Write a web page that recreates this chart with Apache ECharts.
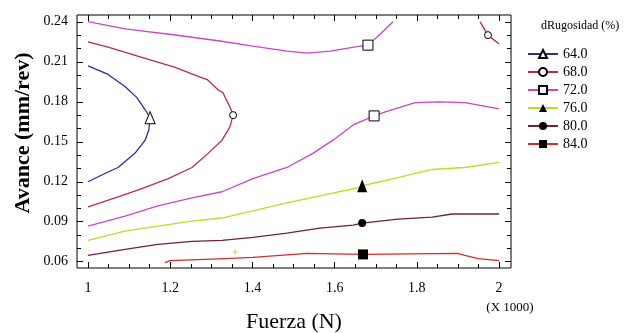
<!DOCTYPE html>
<html><head><meta charset="utf-8">
<script src="https://cdn.jsdelivr.net/npm/echarts@6/dist/echarts.min.js"></script>
<style>html,body{margin:0;padding:0;background:#fff}#c{width:626px;height:333px}</style>
</head><body><div id="c"></div>
<script>
// ---- data (Fuerza in thousands of N, Avance in mm/rev) ----
const levels = ['64.0','68.0','72.0','76.0','80.0','84.0'];
const xTickLabels = [1, 1.2, 1.4, 1.6, 1.8, 2];
const yTickLabels = [0.06, 0.09, 0.12, 0.15, 0.18, 0.21, 0.24];

const c64 = [[1,0.207],[1.049,0.2005],[1.09,0.1914],[1.119,0.1831],[1.139,0.174],[1.151,0.168],[1.148,0.1588],[1.139,0.1512],[1.114,0.1413],[1.073,0.1307],[1.041,0.1262],[1,0.12]];
const c68a = [[1,0.225],[1.049,0.221],[1.131,0.2134],[1.212,0.2058],[1.268,0.199],[1.29,0.1967],[1.316,0.189],[1.328,0.1869],[1.345,0.1762],[1.353,0.170],[1.345,0.161],[1.326,0.1512],[1.292,0.1413],[1.253,0.1307],[1.195,0.1224],[1.131,0.1148],[1.066,0.1079],[1,0.1011]];
const c68b = [[1.954,0.24],[1.973,0.230],[2,0.2233]];
const c72a = [[1,0.2402],[1.09,0.2347],[1.212,0.2301],[1.321,0.2256],[1.401,0.2218],[1.484,0.218],[1.533,0.2165],[1.589,0.218],[1.662,0.2218],[1.681,0.2225],[1.706,0.2294],[1.742,0.24]];
const c72b = [[1,0.0867],[1.09,0.0943],[1.17,0.1019],[1.253,0.1079],[1.326,0.1125],[1.401,0.1224],[1.484,0.1307],[1.547,0.1413],[1.596,0.1512],[1.645,0.1626],[1.696,0.1694],[1.723,0.1725],[1.796,0.1793],[1.856,0.18],[1.917,0.1793],[2,0.1747]];
const c76 = [[1,0.0761],[1.09,0.0829],[1.17,0.0867],[1.253,0.0905],[1.326,0.0928],[1.401,0.0981],[1.484,0.1041],[1.564,0.1094],[1.657,0.1155],[1.667,0.117],[1.754,0.1231],[1.837,0.1292],[1.917,0.1307],[2,0.1345]];
const c80 = [[1,0.0647],[1.09,0.0692],[1.17,0.073],[1.253,0.0753],[1.326,0.076],[1.401,0.0783],[1.484,0.0814],[1.564,0.0852],[1.645,0.0874],[1.667,0.089],[1.754,0.092],[1.837,0.0935],[1.886,0.0958],[2,0.0958]];
const c84 = [[1.187,0.0594],[1.2,0.0609],[1.333,0.0624],[1.401,0.0632],[1.467,0.0647],[1.533,0.0662],[1.669,0.0655],[1.9,0.0662],[1.917,0.0647],[1.949,0.0624],[2,0.0609]];
const strayMark = [[1.358,0.0673]];
// index of the point carrying the marker on each piece
const markIdx = {c64:5, c68a:9, c68b:1, c72a:9, c72b:10, c76:9, c80:9, c84:6};

const F = 'Liberation Serif';
const XMIN = 0.9732, XMAX = 2.029, YMIN = 0.0553, YMAX = 0.2451;

function steps(a, b, s){ const r=[]; for(let i=0;;i++){const v=+(a+i*s).toFixed(4); if(v>b+1e-9)break; r.push(v);} return r; }
const xMinor = steps(1,2,0.05).filter(v=>!xTickLabels.some(m=>Math.abs(m-v)<1e-6));
const yMinor = steps(0.06,0.24,0.01).filter(v=>!yTickLabels.some(m=>Math.abs(m-v)<1e-6));

function mkData(arr, idx){
  return arr.map((p,i)=> i===idx ? {value:p} : {value:p, symbol:'none'});
}
function series(name, arr, idx, color, symbol, size, hollow){
  return {
    type:'line', name, data: mkData(arr, idx), xAxisIndex:0, yAxisIndex:0,
    symbol, symbolSize:size, showSymbol:true, animation:false,
    lineStyle:{color, width:1.3},
    itemStyle: hollow ? {color:'#fff', borderColor:'#000', borderWidth:1} : {color:'#000', borderColor:'#000', borderWidth:0},
    emphasis:{disabled:true}, z: 3
  };
}
const col = ['#2b2ba6','#c22a40','#cc44cc','#b8e020','#7a1c3c','#e02828'];

const xAx = (pos, vals, len, labels)=>({
  type:'value', position:pos, min:XMIN, max:XMAX, gridIndex:0,
  axisLine:{show:false}, splitLine:{show:false},
  axisTick:{show:true, inside:true, length:len, customValues:vals, lineStyle:{color:'#000'}},
  axisLabel: labels ? {show:true, customValues:vals, margin:13, fontFamily:F, fontSize:14, color:'#000', formatter:v=>String(+v.toFixed(2))} : {show:false}
});
const yAx = (pos, vals, len, labels)=>({
  type:'value', position:pos, min:YMIN, max:YMAX, gridIndex:0,
  axisLine:{show:false}, splitLine:{show:false},
  axisTick:{show:true, inside:true, length:len, customValues:vals, lineStyle:{color:'#000'}},
  axisLabel: labels ? {show:true, customValues:vals, margin:9, fontFamily:F, fontSize:14, color:'#000', formatter:v=>v.toFixed(2)} : {show:false}
});

const chart = echarts.init(document.getElementById('c'), null, {renderer:'canvas'});
chart.setOption({
  animation:false,
  backgroundColor:'#fff',
  grid:{left:77, top:15, right:115, bottom:65, show:true, borderColor:'#000', borderWidth:1, backgroundColor:'transparent', outerBoundsMode:'none', containLabel:false},
  xAxis:[
    Object.assign(xAx('bottom', xTickLabels, 6, true), {name:'Fuerza (N)', nameLocation:'middle', nameGap:43, nameTextStyle:{fontFamily:F, fontSize:22, color:'#000'}}),
    xAx('bottom', xMinor, 4, false),
    xAx('top', xTickLabels, 6, false),
    xAx('top', xMinor, 4, false)
  ],
  yAxis:[
    yAx('left', yTickLabels, 6, true),
    yAx('left', yMinor, 4, false),
    yAx('right', yTickLabels, 6, false),
    yAx('right', yMinor, 4, false)
  ],
  title:{text:'dRugosidad (%)', left:536, top:15, textStyle:{fontFamily:F, fontSize:12, fontWeight:'normal', color:'#000'}},
  legend:{
    orient:'vertical', left:522, top:42, itemWidth:30, itemHeight:10, itemGap:4,
    data: levels,
    textStyle:{fontFamily:F, fontSize:14, color:'#000'},
    selectedMode:false
  },
  graphic:[
    {type:'text', x:23, y:133, rotation:Math.PI/2, style:{text:'Avance (mm/rev)', font:'bold 22px "Liberation Serif"', fill:'#000', textAlign:'center', textVerticalAlign:'middle'}},
    {type:'text', x:510, y:308, style:{text:'(X 1000)', font:'13px "Liberation Serif"', fill:'#000', textAlign:'center', textVerticalAlign:'middle'}}
  ],
  series:[
    series(levels[0], c64, markIdx.c64, col[0], 'triangle', [10,12], true),
    series(levels[1], c68a, markIdx.c68a, col[1], 'circle', 7, true),
    series(levels[1], c68b, markIdx.c68b, col[1], 'circle', 7, true),
    series(levels[2], c72a, markIdx.c72a, col[2], 'rect', 10, true),
    series(levels[2], c72b, markIdx.c72b, col[2], 'rect', 10, true),
    series(levels[3], c76, markIdx.c76, col[3], 'triangle', [10,13], false),
    series(levels[4], c80, markIdx.c80, col[4], 'circle', 8, false),
    series(levels[5], c84, markIdx.c84, col[5], 'rect', 10, false),
    {type:'scatter', name:'mark', data:strayMark, symbol:'path://M4,0H6V4H10V6H6V10H4V6H0V4H4Z', symbolSize:6, itemStyle:{color:'#b8e020'}, silent:true, animation:false, z:2}
  ]
});
</script></body></html>
